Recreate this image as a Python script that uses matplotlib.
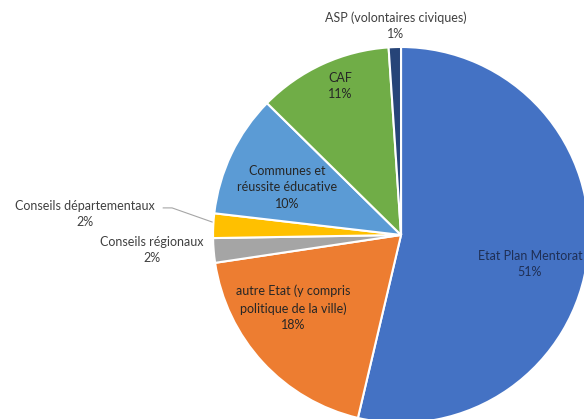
import matplotlib
matplotlib.use("Agg")
import matplotlib.pyplot as plt

labels = ["Etat Plan Mentorat", "autre Etat (y compris\npolitique de la ville)",
          "Conseils régionaux", "Conseils départementaux",
          "Communes et\nréussite éducative", "CAF", "ASP (volontaires civiques)"]
values = [51, 18, 2, 2, 10, 11, 1]
colors = ["#4472C4", "#ED7D31", "#A5A5A5", "#FFC000", "#5B9BD5", "#70AD47", "#264478"]

# where each label sits (data units, pie radius = 1)
label_pos = [(0.686, -0.154), (-0.574, -0.388), (-1.324, -0.080), (-1.681, 0.112),
             (-0.606, 0.255), (-0.324, 0.793), (-0.027, 1.112)]
inside = [True, True, False, False, True, True, False]

fig = plt.figure(figsize=(5.84, 4.19), dpi=100)
ax = fig.add_axes([0, 0, 1, 1])
ax.pie(values, colors=colors, startangle=90, counterclock=False,
       wedgeprops=dict(edgecolor="white", linewidth=1.5))

for lab, v, (x, y), ins in zip(labels, values, label_pos, inside):
    col = "#262626" if ins else "#404040"
    if ins and lab.startswith("Etat"):
        col = "#1F2F55"
    ax.text(x, y, f"{lab}\n{v}%", ha="center", va="center", fontsize=9,
            family="Lato", color=col, linespacing=1.45)

# leader line for Conseils départementaux
ax.plot([-1.265, -1.218, -1.005], [0.144, 0.144, 0.069], color="#A6A6A6", lw=0.8)

ax.set_xlim(-2.133, 0.973)
ax.set_ylim(-0.979, 1.25)
ax.set_aspect("equal")
ax.axis("off")
fig.savefig("out.png", dpi=100)
